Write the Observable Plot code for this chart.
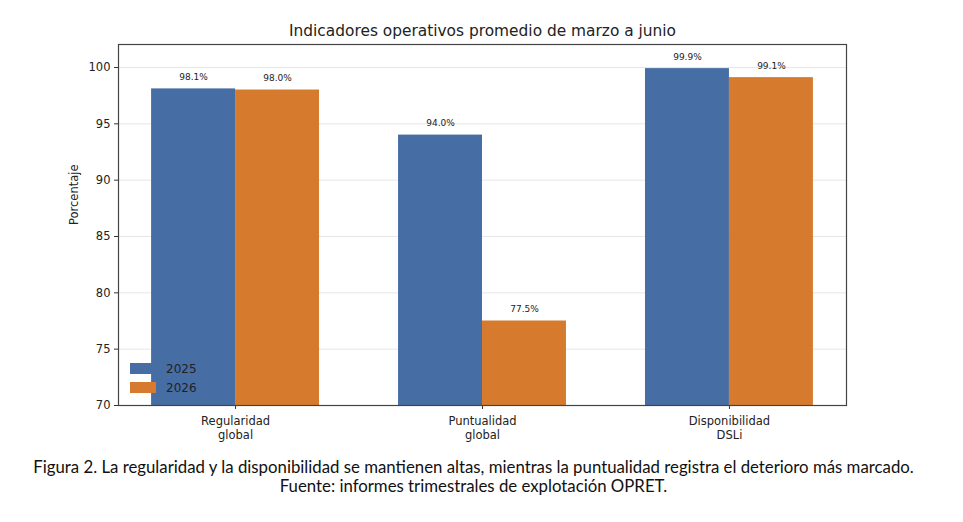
<!DOCTYPE html>
<html>
<head>
<meta charset="utf-8">
<script src="https://cdn.jsdelivr.net/npm/d3@7"></script>
<script src="https://cdn.jsdelivr.net/npm/@observablehq/plot@0.6"></script>
<style>
  html, body { margin: 0; padding: 0; background: #fff; }
  #wrap { position: relative; width: 963px; height: 522px; background: #fff; overflow: hidden; }
  #legend { position: absolute; left: 130px; top: 359px; font-family: "DejaVu Sans", sans-serif; font-size: 12px; color: #222; }
  .item { display: flex; align-items: center; height: 19px; }
  .sw { width: 26px; height: 11px; margin-right: 10px; }
  #caption { position: absolute; left: -8px; top: 457px; width: 963px; text-align: center; font-family: Lato, "Noto Sans", sans-serif; font-size: 16.8px; line-height: 19px; color: #111; }
</style>
</head>
<body>
<div id="wrap">
  <div id="chart"></div>
  <div id="legend"></div>
  <div id="caption">Figura 2. La regularidad y la disponibilidad se mantienen altas, mientras la puntualidad registra el deterioro más marcado.<br>Fuente: informes trimestrales de explotación OPRET.</div>
</div>
<script>
const title = "Indicadores operativos promedio de marzo a junio";
const categories = ["Regularidad\nglobal", "Puntualidad\nglobal", "Disponibilidad\nDSLi"];
const series = ["2025", "2026"];
const values2025 = [98.1, 94.0, 99.9];
const values2026 = [98.0, 77.5, 99.1];
const yTicks = [70, 75, 80, 85, 90, 95, 100];
const colors = ["#466da4", "#d67a2e"];

const barWidth = 0.34;
const yFloor = 70;

const rows = [];
categories.forEach((c, i) => {
  rows.push({i, cat: c, s: 0, series: series[0], value: values2025[i]});
  rows.push({i, cat: c, s: 1, series: series[1], value: values2026[i]});
});

const chart = Plot.plot({
  width: 963,
  height: 450,
  marginLeft: 118,
  marginRight: 117,
  marginTop: 44,
  marginBottom: 45,
  style: { fontFamily: "DejaVu Sans, sans-serif", color: "#222", background: "#fff" },
  x: { type: "linear", domain: [-0.474, 2.474] },
  y: { domain: [70, 102.04] },
  color: { domain: series, range: colors },
  marks: [
    Plot.gridY(yTicks, { stroke: "#e6e6e6", strokeOpacity: 1 }),
    Plot.rectY(rows, {
      x1: d => d.i + (d.s === 0 ? -barWidth : 0),
      x2: d => d.i + (d.s === 0 ? 0 : barWidth),
      y1: yFloor,
      y2: "value",
      fill: "series"
    }),
    Plot.text(rows, {
      x: d => d.i + (d.s === 0 ? -barWidth / 2 : barWidth / 2),
      y: "value",
      text: d => d.value.toFixed(1) + "%",
      dy: -12,
      fontSize: 9,
      fill: "#222"
    }),
    Plot.axisY({ ticks: yTicks, tickSize: 4, tickPadding: 4, fontSize: 11.5, label: null, stroke: "#333" }),
    Plot.axisX({ ticks: [0, 1, 2], tickFormat: i => categories[i], tickSize: 4, tickPadding: 6, fontSize: 11.5, lineHeight: 1.2, label: null, stroke: "#333" }),
    Plot.text(["Porcentaje"], { frameAnchor: "left", rotate: -90, dx: -44, fontSize: 11.5, fill: "#222" }),
    Plot.text([title], { frameAnchor: "top", lineAnchor: "middle", dy: -13, fontSize: 15.4, fill: "#222" }),
    Plot.frame({ stroke: "#444", strokeWidth: 1.2 })
  ]
});
document.getElementById("chart").appendChild(chart);

const legend = document.getElementById("legend");
series.forEach((s, k) => {
  const item = document.createElement("div");
  item.className = "item";
  const sw = document.createElement("div");
  sw.className = "sw";
  sw.style.background = colors[k];
  const t = document.createElement("span");
  t.textContent = s;
  item.appendChild(sw);
  item.appendChild(t);
  legend.appendChild(item);
});
</script>
</body>
</html>
